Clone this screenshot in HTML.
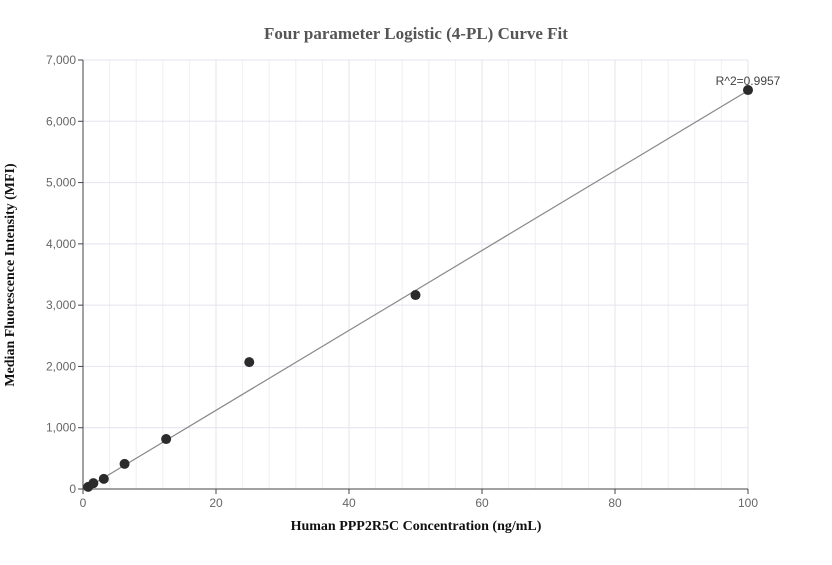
<!DOCTYPE html>
<html><head><meta charset="utf-8"><style>
body{margin:0;background:#fff;}
svg{font-family:"Liberation Sans",sans-serif;}
</style></head><body>
<svg id="c" width="832" height="560"></svg>
<script>
const concentrations=[0.78,1.56,3.13,6.25,12.5,25,50,100];
const mfiValues=[35,95,165,410,815,2070,3165,6510];
const xTicks=[0,20,40,60,80,100];
const yTicks=[0,1000,2000,3000,4000,5000,6000,7000];
const fitParams=[-20,65.2];
const r2Label="R^2=0.9957";
const ns="http://www.w3.org/2000/svg";
const svg=document.getElementById('c');
const X0=83,X1=748,Y0=489,Y1=60;
const sx=v=>X0+(v/100)*(X1-X0);
const sy=v=>Y0-(v/7000)*(Y0-Y1);
function mk(t,a,p){const e=document.createElementNS(ns,t);for(const k in a)e.setAttribute(k,a[k]);(p||svg).appendChild(e);return e;}
const grid=mk('g',{});


for(let v=4;v<100;v+=4){if(v%20==0)continue;mk('line',{x1:sx(v),x2:sx(v),y1:Y1,y2:Y0,stroke:'#f0f0f5','stroke-width':1},grid);}
xTicks.forEach(v=>{if(v>0)mk('line',{x1:sx(v),x2:sx(v),y1:Y1,y2:Y0,stroke:'#e2e4ee','stroke-width':1},grid);});
yTicks.forEach(v=>{if(v>0)mk('line',{x1:X0,x2:X1,y1:sy(v),y2:sy(v),stroke:'#e2e4ee','stroke-width':1},grid);});
mk('line',{x1:X0,x2:X0,y1:Y1,y2:Y0,stroke:'#444','stroke-width':1});
mk('line',{x1:X0,x2:X1,y1:Y0,y2:Y0,stroke:'#444','stroke-width':1});
xTicks.forEach(v=>{
 mk('line',{x1:sx(v),x2:sx(v),y1:Y0,y2:Y0+5,stroke:'#444'});
 const t=mk('text',{x:sx(v),y:Y0+18,'text-anchor':'middle','font-size':12,fill:'#666'});t.textContent=v;
 
 
});
yTicks.forEach(v=>{
 mk('line',{x1:X0-5,x2:X0,y1:sy(v),y2:sy(v),stroke:'#444'});
 const t=mk('text',{x:X0-7,y:sy(v)+4,'text-anchor':'end','font-size':12,fill:'#666'});t.textContent=v.toLocaleString('en-US');
 
 
});
const fit=mk('line',{x1:sx(0),y1:sy(fitParams[0]),x2:sx(100),y2:sy(fitParams[0]+fitParams[1]*100),stroke:'#888','stroke-width':1.2});


concentrations.forEach((c,i)=>{
 const p=mk('circle',{cx:sx(c),cy:sy(mfiValues[i]),r:5,fill:'#2b2b2b'});
 
 
});
const r=mk('text',{x:sx(100),y:sy(mfiValues[7])-5,'text-anchor':'middle','font-size':12,fill:'#444'});r.textContent=r2Label;


const ti=mk('text',{x:416,y:39,'text-anchor':'middle','font-size':17,'font-weight':'bold',fill:'#555','font-family':'Liberation Serif, serif'});ti.textContent='Four parameter Logistic (4-PL) Curve Fit';


const xt=mk('text',{x:416,y:530,'text-anchor':'middle','font-size':14,'font-weight':'bold',fill:'#111','font-family':'Liberation Serif, serif'});xt.textContent='Human PPP2R5C Concentration (ng/mL)';


const yt=mk('text',{x:0,y:0,'text-anchor':'middle','font-size':14,'font-weight':'bold',fill:'#111','font-family':'Liberation Serif, serif',transform:'translate(14,275) rotate(-90)'});yt.textContent='Median Fluorescence Intensity (MFI)';


</script>
</body></html>
